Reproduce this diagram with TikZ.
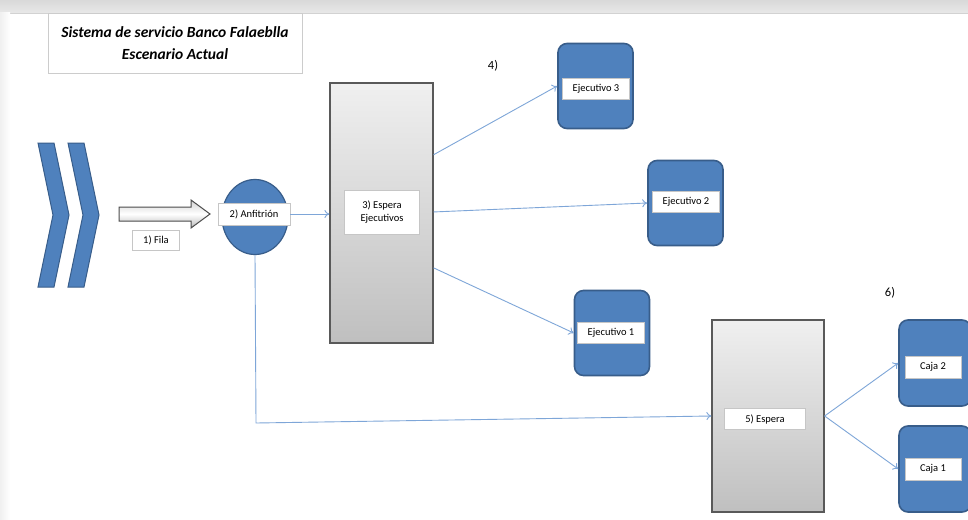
\documentclass[tikz,border=0pt]{standalone}
\usepackage{fontspec}
\setmainfont{Carlito}
\usetikzlibrary{arrows.meta,calc,shapes.geometric}
\definecolor{bluefill}{HTML}{4F81BD}
\definecolor{blueline}{HTML}{385D8A}
\definecolor{conn}{HTML}{7EA6D8}
\tikzset{
  lbl/.style={draw=gray!45, fill=white, inner sep=2pt, font=\fontsize{10.5}{12.5}\selectfont, align=center},
  station/.style={draw=blueline, line width=1.6pt, fill=bluefill, rounded corners=9pt, minimum width=75pt, minimum height=85pt, inner sep=0pt},
  waitbox/.style={draw=gray!70!black, line width=1.2pt, top color=gray!12, bottom color=gray!50, inner sep=0pt},
  flow/.style={draw=conn, line width=0.9pt, -{To[length=5pt,width=8pt]}},
  num/.style={font=\fontsize{12.5}{14}\selectfont, inner sep=0pt}
}
\begin{document}
\begin{tikzpicture}[x=1pt,y=-1pt]
\useasboundingbox (0,0) rectangle (968,519);
\clip (0,0) rectangle (968,519);
\fill[white] (0,0) rectangle (968,519);
% frame shading
\shade[top color=gray!30, bottom color=gray!18] (0,0) rectangle (968,13);
\draw[gray!35] (0,13) -- (968,13);
\shade[left color=gray!12, right color=white] (0,13) rectangle (10,519);
% title
\node[draw=gray!40, line width=0.8pt, minimum width=254pt, minimum height=60pt, align=center,
      font=\fontsize{15.5}{22}\selectfont\bfseries\itshape] (title) at (175,43)
  {Sistema de servicio Banco Falaeblla\\Escenario Actual};
% chevrons
\foreach \dx in {0,30}{
  \filldraw[fill=bluefill, draw=blueline, line width=1pt, line join=miter]
    (38+\dx,143) -- (54+\dx,143) -- (69+\dx,215) -- (54+\dx,287) -- (38+\dx,287) -- (53+\dx,215) -- cycle;
}
% block arrow Fila
\shade[draw=gray!60!black, line width=1pt, top color=gray!35, bottom color=gray!55, middle color=white]
  (119,207) -- (191,207) -- (191,200) -- (210,214) -- (191,228) -- (191,221) -- (119,221) -- cycle;
\node[lbl, minimum width=47pt, minimum height=20pt] (fila) at (156,240) {1) Fila};
% anfitrion
\node[ellipse, draw=blueline, line width=1.2pt, fill=bluefill, minimum width=66pt, minimum height=75pt, inner sep=0pt] (anfc) at (255,217) {};
\node[lbl, minimum width=72pt, minimum height=22pt] (anf) at (254,214) {2) Anfitrión};
% espera ejecutivos
\node[waitbox, minimum width=103pt, minimum height=260pt] (esp3) at (381.5,213) {};
\node[lbl, minimum width=75pt, minimum height=44pt] (esp3l) at (382,212) {3) Espera\\Ejecutivos};
% ejecutivos
\node[station] (ej3) at (595.5,86) {};
\node[lbl, minimum width=67pt, minimum height=21pt] (ej3l) at (596,89) {Ejecutivo 3};
\node[station] (ej2) at (685.5,203) {};
\node[lbl, minimum width=67pt, minimum height=21pt] (ej2l) at (686,202) {Ejecutivo 2};
\node[station] (ej1) at (612,333) {};
\node[lbl, minimum width=67pt, minimum height=21pt] (ej1l) at (611,333) {Ejecutivo 1};
\node[num] (n4) at (493,66) {4)};
% espera 5
\node[waitbox, minimum width=112pt, minimum height=192pt] (esp5) at (768,416) {};
\node[lbl, minimum width=81pt, minimum height=21pt] (esp5l) at (765,419) {5) Espera};
% cajas
\node[station, minimum width=72pt, minimum height=86pt] (caja2) at (935,363) {};
\node[lbl, minimum width=56pt, minimum height=22pt] (caja2l) at (933,367) {Caja 2};
\node[station, minimum width=72pt, minimum height=86pt] (caja1) at (935,469) {};
\node[lbl, minimum width=56pt, minimum height=22pt] (caja1l) at (933,469) {Caja 1};
\node[num] (n6) at (890,293) {6)};
% connectors
\draw[flow] (anf.east) -- (esp3.west |- anf.east);
\coordinate (o3) at ($(esp3.north east)!0.277!(esp3.south east)$);
\coordinate (o2) at ($(esp3.north east)!0.496!(esp3.south east)$);
\coordinate (o1) at ($(esp3.north east)!0.71!(esp3.south east)$);
\draw[flow] (o3) -- (ej3.west);
\draw[flow] (o2) -- (ej2.west);
\draw[flow] (o1) -- (ej1.west);
\coordinate (bend) at (256,423);
\draw[flow] (anfc.south) -- (bend) -- (esp5.west);
\draw[flow] (esp5.east) -- (caja2.west);
\draw[flow] (esp5.east) -- (caja1.west);
\end{tikzpicture}
\end{document}
